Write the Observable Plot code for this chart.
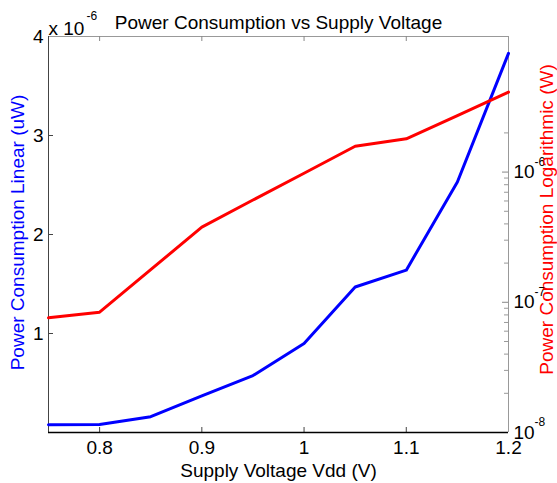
<!DOCTYPE html>
<html>
<head>
<meta charset="utf-8">
<script src="https://cdn.jsdelivr.net/npm/d3@7"></script>
<script src="https://cdn.jsdelivr.net/npm/@observablehq/plot@0.6"></script>
<style>
  html, body { margin: 0; padding: 0; background: white; }
  #chart { position: relative; width: 557px; height: 483px; }
  #chart svg { position: absolute; left: 0; top: 0; }
</style>
</head>
<body>
<div id="chart"></div>
<script>
// ---- data ----
const voltage = [0.75, 0.8, 0.85, 0.9, 0.95, 1.0, 1.05, 1.1, 1.15, 1.2];
// linear power, in units of 1e-6 W
const powerLinear = [0.078, 0.08, 0.16, 0.37, 0.575, 0.90, 1.47, 1.64, 2.53, 3.83];
// logarithmic-axis power, W
const powerLog = [7.6e-8, 8.4e-8, 1.78e-7, 3.78e-7, 6.1e-7, 9.8e-7, 1.58e-6, 1.80e-6, 2.72e-6, 4.12e-6];

const xTicks = [0.8, 0.9, 1.0, 1.1, 1.2];
const xTickLabels = ["0.8", "0.9", "1", "1.1", "1.2"];
const leftTicks = [1, 2, 3, 4];
const leftTickLabels = ["1", "2", "3", "4"];
const rightMajor = [1e-8, 1e-7, 1e-6];
const rightExponents = ["-8", "-7", "-6"];
const rightMinor = [2e-8, 3e-8, 4e-8, 5e-8, 6e-8, 7e-8, 8e-8, 9e-8,
                    2e-7, 3e-7, 4e-7, 5e-7, 6e-7, 7e-7, 8e-7, 9e-7, 2e-6];

const titleText = "Power Consumption vs Supply Voltage";
const xLabel = "Supply Voltage Vdd (V)";
const leftLabel = "Power Consumption Linear (uW)";
const rightLabel = "Power Consumption Logarithmic (W)";
const multiplierBase = "x 10";
const multiplierExp = "-6";

// ---- layout ----
const W = 557, H = 483, mL = 48, mR = 49, mT = 36, mB = 51;
const xDomain = [0.75, 1.2];
const yDomain = [0, 4];
const yLogDomain = [1e-8, 1.1e-5];
const font = "'Liberation Sans', Arial, Helvetica, sans-serif";
const BLUE = "#0000ff", RED = "#ff0000";
const pxX = (xDomain[1] - xDomain[0]) / (W - mL - mR);
const pxY = (yDomain[1] - yDomain[0]) / (H - mT - mB);

const linData = voltage.map((v, i) => ({v, p: powerLinear[i]}));
const logData = voltage.map((v, i) => ({v, p: powerLog[i]}));

const p1 = Plot.plot({
  width: W, height: H,
  marginLeft: mL, marginRight: mR, marginTop: mT, marginBottom: mB,
  style: {fontFamily: font, fontSize: "19px", background: "white", color: "black", overflow: "visible"},
  x: {domain: xDomain},
  y: {domain: yDomain},
  marks: [
    Plot.ruleY([yDomain[1]], {stroke: "#999", strokeWidth: 1}),
    Plot.ruleX([xDomain[1]], {stroke: "#999", strokeWidth: 1}),
    Plot.ruleX(xTicks.slice(0, 4), {y1: yDomain[0], y2: yDomain[0] + 5 * pxY, stroke: "#444"}),
    Plot.ruleX(xTicks.slice(0, 4), {y1: yDomain[1], y2: yDomain[1] - 5 * pxY, stroke: "#888"}),
    Plot.ruleY(leftTicks.slice(0, 3), {x1: xDomain[0], x2: xDomain[0] + 5 * pxX, stroke: "#444"}),
    Plot.ruleX([xDomain[0]], {stroke: "#444", strokeWidth: 1}),
    Plot.ruleY([yDomain[0]], {stroke: "#000", strokeWidth: 1.3}),
    Plot.axisX(xTicks, {tickSize: 0, tickPadding: 8, label: null,
      tickFormat: d => xTickLabels[xTicks.indexOf(d)], fontSize: 19}),
    Plot.axisY(leftTicks, {tickSize: 0, tickPadding: 5, label: null,
      tickFormat: d => leftTickLabels[leftTicks.indexOf(d)], fontSize: 19}),
    Plot.line(linData, {x: "v", y: "p", stroke: BLUE, strokeWidth: 3}),
    Plot.text([titleText], {frameAnchor: "top", lineAnchor: "bottom", dy: -8, fontSize: 19}),
    Plot.text([xLabel], {frameAnchor: "bottom", lineAnchor: "bottom", dy: 44, fontSize: 19}),
    Plot.text([leftLabel], {frameAnchor: "left", textAnchor: "middle", lineAnchor: "middle",
      dx: -31, dy: -2, rotate: -90, fill: BLUE, fontSize: 19}),
    Plot.text([multiplierBase], {frameAnchor: "top-left", textAnchor: "start", lineAnchor: "bottom",
      dy: -2, fontSize: 19}),
    Plot.text([multiplierExp], {frameAnchor: "top-left", textAnchor: "start", lineAnchor: "bottom",
      dx: 38, dy: -17, fontSize: 12})
  ]
});

const p2 = Plot.plot({
  width: W, height: H,
  marginLeft: mL, marginRight: mR, marginTop: mT, marginBottom: mB,
  style: {fontFamily: font, fontSize: "19px", background: "transparent", color: "black", overflow: "visible"},
  x: {domain: xDomain, axis: null},
  y: {type: "log", domain: yLogDomain, axis: null},
  marks: [
    Plot.ruleY(rightMajor.slice(1), {x1: xDomain[1], x2: xDomain[1] - 6 * pxX, stroke: "#888"}),
    Plot.ruleY(rightMinor, {x1: xDomain[1], x2: xDomain[1] - 4 * pxX, stroke: "#999"}),
    Plot.line(logData, {x: "v", y: "p", stroke: RED, strokeWidth: 3}),
    Plot.text(rightMajor, {x: xDomain[1], y: d => d, text: () => "10", dx: 5, textAnchor: "start", fontSize: 19}),
    Plot.text(rightMajor, {x: xDomain[1], y: d => d, text: d => rightExponents[rightMajor.indexOf(d)],
      dx: 26, dy: -10, textAnchor: "start", fontSize: 12}),
    Plot.text([rightLabel], {frameAnchor: "right", textAnchor: "middle", lineAnchor: "middle",
      dx: 38, dy: -15, rotate: -90, fill: RED, fontSize: 19})
  ]
});

const chart = document.getElementById("chart");
chart.appendChild(p1);
chart.appendChild(p2);
</script>
</body>
</html>
